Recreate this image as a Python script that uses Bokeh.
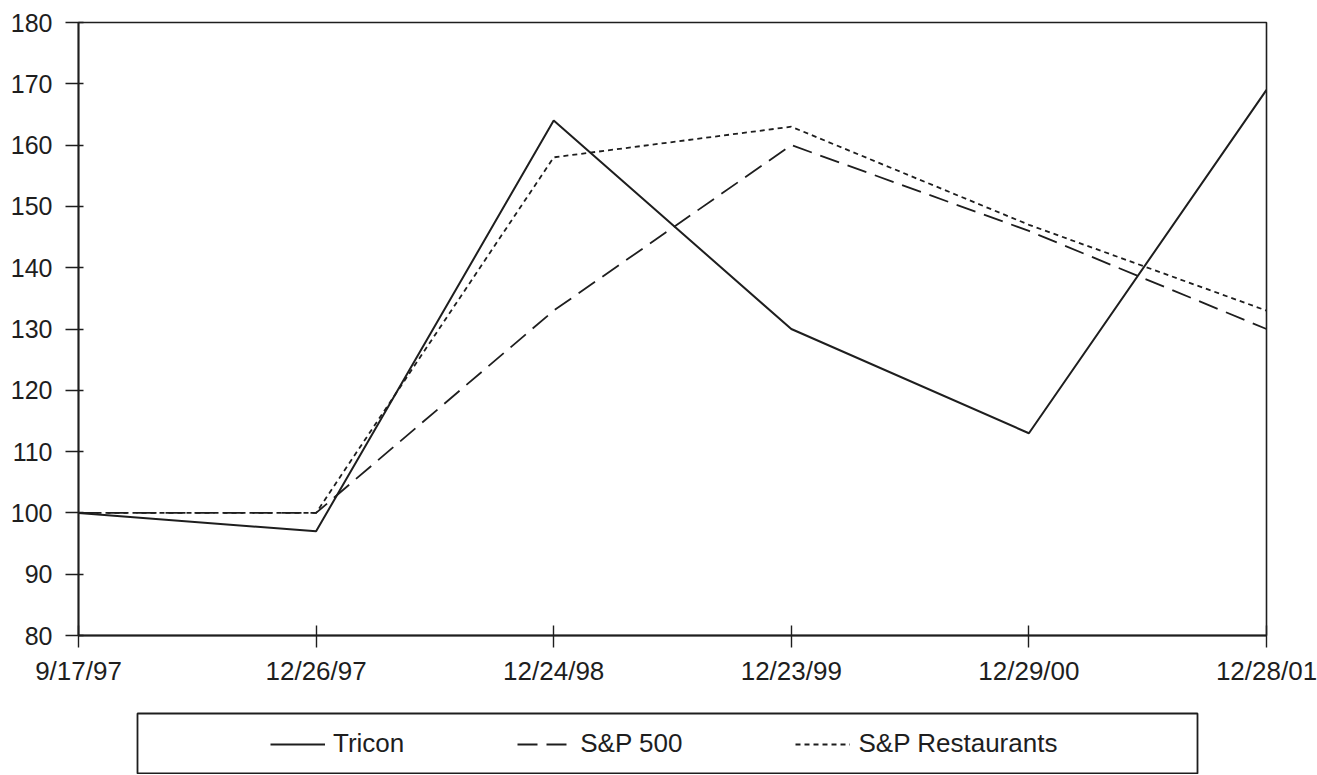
from bokeh.plotting import figure
from bokeh.models import Range1d, FixedTicker, Legend, LegendItem
from bokeh.layouts import column, row
from bokeh.embed import file_html
from bokeh.resources import INLINE

dates = ["9/17/97", "12/26/97", "12/24/98", "12/23/99", "12/29/00", "12/28/01"]
tricon = [100, 97, 164, 130, 113, 169]
sp500 = [100, 100, 133, 160, 146, 130]
sp_restaurants = [100, 100, 158, 163, 147, 133]
y_ticks = [80, 90, 100, 110, 120, 130, 140, 150, 160, 170, 180]

FONT = "Liberation Sans"
INK = "#1e1e1e"

x = list(range(len(dates)))

p = figure(width=1317, height=698, output_backend="svg", toolbar_location=None,
           x_range=Range1d(0, len(dates) - 1), y_range=Range1d(80, 180),
           min_border_left=78, min_border_right=51, min_border_top=22, min_border_bottom=63)
p.xgrid.visible = False
p.ygrid.visible = False
p.outline_line_color = INK
p.outline_line_width = 1.6
p.background_fill_color = "white"
p.border_fill_color = "white"

p.xaxis.ticker = FixedTicker(ticks=x)
p.xaxis.major_label_overrides = {i: d for i, d in zip(x, dates)}
p.yaxis.ticker = FixedTicker(ticks=y_ticks)
for ax in (p.xaxis[0], p.yaxis[0]):
    ax.axis_line_color = INK
    ax.axis_line_width = 1.8
    ax.major_tick_line_color = INK
    ax.major_tick_line_width = 1.4
    ax.minor_tick_line_color = None
    ax.major_label_text_font = FONT
    ax.major_label_text_color = INK
p.xaxis.major_label_text_font_size = "26px"
p.yaxis.major_label_text_font_size = "25px"
p.xaxis.major_tick_in = 10
p.xaxis.major_tick_out = 12
p.xaxis.major_label_standoff = 8
p.yaxis.major_tick_in = 5
p.yaxis.major_tick_out = 13
p.yaxis.major_label_standoff = 13

styles = [
    ("Tricon", tricon, dict(line_width=2)),
    ("S&P 500", sp500, dict(line_width=1.8, line_dash="20 9")),
    ("S&P Restaurants", sp_restaurants, dict(line_width=1.8, line_dash="5 4")),
]
for name, vals, st in styles:
    p.line(x, vals, line_color=INK, **st)

# legend panel (its frame is the legend box; the series sit outside its range)
p2 = figure(width=1317, height=76, output_backend="svg", toolbar_location=None,
            x_range=Range1d(0, len(dates) - 1), y_range=Range1d(0, 1),
            x_axis_type=None, y_axis_type=None,
            min_border_left=137, min_border_right=120, min_border_top=15, min_border_bottom=0)
p2.xgrid.visible = False
p2.ygrid.visible = False
p2.outline_line_color = INK
p2.outline_line_width = 1.8
p2.background_fill_color = "white"
p2.border_fill_color = "white"

items = []
for name, vals, st in styles:
    r = p2.line(x, vals, line_color=INK, **st)
    items.append(LegendItem(label=name, renderers=[r]))

legend = Legend(items=items,
                orientation="horizontal", location=(133, 15),
                border_line_color=None, background_fill_alpha=0,
                padding=0, margin=0, spacing=113,
                glyph_width=55, glyph_height=20, label_standoff=8,
                label_text_font=FONT, label_text_font_size="26px", label_text_color=INK)
p2.add_layout(legend)

layout = column(p, row(p2), spacing=0)
open("out.html", "w").write(file_html(layout, INLINE))
